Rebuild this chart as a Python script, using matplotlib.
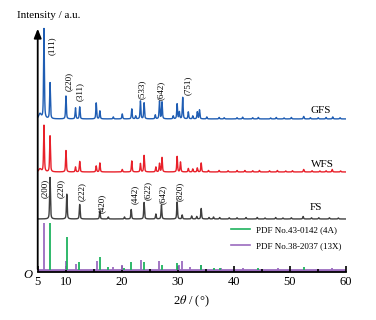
import numpy as np
import matplotlib.pyplot as plt
from matplotlib.lines import Line2D

plt.rcParams['font.family'] = ['Liberation Serif', 'DejaVu Serif']
plt.rcParams['mathtext.fontset'] = 'stix'

# peak positions (2theta, deg) and heights (a.u.)
gfs_pos = [5.4, 6.12, 7.2, 10.05, 11.75, 12.5, 15.45, 16.1, 18.5, 20.1, 21.8, 22.5, 23.35,
           24.0, 26.0, 26.75, 27.2, 29.2, 29.9, 30.3, 30.9, 31.9, 32.7, 33.5, 33.9,
           35.2, 37.4, 38.3, 40.6, 41.6, 43.4, 44.4, 46.6, 47.6, 49.0, 50.3, 52.5,
           53.7, 55.1, 56.5, 57.7, 59.0]
gfs_h = [5, 90, 36, 23, 11, 12, 16, 8, 2, 5, 10, 3, 18,
         16, 4, 17.5, 17, 3, 15, 7, 21.5, 7, 3, 7, 9,
         2, 1.5, 1.2, 1.2, 1.8, 1.2, 1.5, 1, 1.5, 1, 1.5, 2.5,
         1.2, 1.2, 1.5, 2, 1.2]

wfs_pos = [5.4, 6.12, 7.2, 10.05, 11.75, 12.5, 15.45, 16.1, 20.1, 21.8, 23.35, 24.0, 26.1,
           26.75, 27.2, 29.9, 30.5, 31.9, 32.7, 33.5, 34.2, 35.5, 37.4, 39.0, 40.6,
           42.0, 43.4, 44.6, 46.4, 47.8, 49.3, 50.5, 52.5, 54.0, 55.4, 56.5, 57.6, 59.1]
wfs_h = [3, 46.5, 36, 21.5, 5, 10.5, 6, 9, 2.5, 11, 8.5, 16.5, 5,
         8.5, 14.5, 15.5, 10, 3.5, 3, 4, 9, 1.5, 1.5, 1.2, 1.5,
         1.5, 1.2, 1.5, 1.2, 1.5, 1, 1.2, 2.5, 1.2, 1, 1.2, 2.5, 1]

fs_pos = [7.2, 10.2, 12.5, 16.1, 17.6, 20.5, 21.7, 24.0, 26.1, 27.1, 29.9, 30.8, 32.5,
          33.4, 34.2, 35.6, 36.4, 37.5, 39.2, 40.6, 42.2, 44.2, 45.6, 47.5, 48.8,
          50.3, 52.4, 53.9, 55.2, 57.1, 58.7]
fs_h = [41.5, 25, 14.5, 8, 2, 2, 9.5, 16.5, 5, 14, 17, 4, 3,
        2.5, 10.5, 1.5, 2, 1.5, 1.2, 1.2, 1.5, 1.5, 1, 1.5, 1,
        1.2, 2.5, 1.2, 1.2, 1.2, 1]

# standard patterns (stick heights)
pdf_4a_pos = [7.18, 10.17, 12.46, 16.11, 17.64, 20.41, 21.67, 23.99, 27.11, 29.94,
              34.18, 36.4, 37.5, 44.3, 52.5]
pdf_4a_h = [47, 33, 8, 13, 3, 2, 8, 7.5, 5, 7, 5, 2, 2, 1.5, 3]
pdf_13x_pos = [6.1, 10.0, 11.8, 15.5, 18.5, 20.1, 23.4, 26.7, 30.2, 30.8, 32.2, 34.1,
               37.8, 41.7, 47.9, 57.5]
pdf_13x_h = [47, 9, 6, 9, 3, 5, 10, 9, 5, 9, 3, 5, 2, 1.5, 1.5, 1.5]

names = ['GFS', 'WFS', 'FS']
offsets = [153, 100, 53]
colors = ['#1f5db3', '#e8202a', '#3f3f3f']
stick_base = 2

gfs_labels = ['(111)', '(220)', '(311)', '(533)', '(642)', '(751)']
gfs_label_x = [7.55, 10.6, 12.55, 23.6, 27.0, 31.85]
gfs_label_y = [226, 190, 180, 183, 182, 187]
fs_labels = ['(200)', '(220)', '(222)', '(420)', '(442)', '(622)', '(642)', '(820)']
fs_label_x = [6.3, 9.15, 12.9, 16.5, 22.4, 24.7, 27.4, 30.4]
fs_label_y = [84, 84, 80, 69, 78, 82, 78, 81]


def pattern(x, pos, h, fwhm=0.17, eta=0.55):
    y = np.zeros_like(x)
    for c, a in zip(pos, h):
        w = fwhm * (3.0 if c < 5.6 else 1.0)
        d = (x - c) / (w / 2)
        y += a * (eta / (1 + d ** 2) + (1 - eta) * np.exp(-np.log(2) * d ** 2))
    return y


fig = plt.figure(figsize=(3.76, 3.2), dpi=100)
ax = fig.add_axes([0.1003, 0.15, 0.819, 0.766])

x = np.linspace(5, 60, 3000)
data = [(gfs_pos, gfs_h), (wfs_pos, wfs_h), (fs_pos, fs_h)]
for (pos, h), off, col in zip(data, offsets, colors):
    ax.plot(x, pattern(x, pos, h) + off, color=col, lw=1.0)

ax.axhline(stick_base, color='#9b6bbf', lw=2, zorder=1)
ax.vlines(pdf_13x_pos, stick_base, np.array(pdf_13x_h) + stick_base, color='#9b6bbf', lw=1.3)
ax.vlines(pdf_4a_pos, stick_base, np.array(pdf_4a_h) + stick_base, color='#1fb35f', lw=1.3)

handles = [Line2D([], [], color='#1fb35f', lw=1.2), Line2D([], [], color='#9b6bbf', lw=1.2)]
ax.legend(handles, ['PDF No.43-0142 (4A)', 'PDF No.38-2037 (13X)'], loc='lower left',
          bbox_to_anchor=(0.6, 0.055), frameon=False, fontsize=6.5, handlelength=2.2,
          handletextpad=0.6, labelspacing=0.9)

for lab, lx, ly in zip(gfs_labels, gfs_label_x, gfs_label_y):
    ax.text(lx, ly, lab, rotation=90, ha='center', va='center', fontsize=6.5)
for lab, lx, ly in zip(fs_labels, fs_label_x, fs_label_y):
    ax.text(lx, ly, lab, rotation=90, ha='center', va='center', fontsize=6.5)

name_x = [55.5, 55.8, 54.7]
name_y = [161, 107, 64]
for n, nx, ny in zip(names, name_x, name_y):
    ax.text(nx, ny, n, ha='center', va='center', fontsize=8)

ax.set_xlim(5, 60)
ax.set_ylim(0, 245)
ax.set_xticks([5, 10, 20, 30, 40, 50, 60])
ax.set_xticks([15, 25, 35, 45, 55], minor=True)
ax.set_yticks([])
ax.tick_params(axis='x', which='major', direction='in', length=4, width=1.2, labelsize=9, pad=3)
ax.tick_params(axis='x', which='minor', direction='in', length=2, width=1.2)
for s in ['top', 'right']:
    ax.spines[s].set_visible(False)
ax.spines['bottom'].set_linewidth(1.3)
ax.spines['left'].set_visible(False)
ax.annotate('', xy=(5, 246), xytext=(5, 0), xycoords='data',
            arrowprops=dict(arrowstyle='-|>,head_width=0.22,head_length=0.55', color='black', lw=1.3),
            annotation_clip=False)
ax.set_xlabel(r'2$\mathit{\theta}$ / (°)', fontsize=9, labelpad=4)
fig.text(0.045, 0.95, 'Intensity / a.u.', fontsize=8, va='center')
fig.text(0.075, 0.142, 'O', fontsize=9, style='italic', ha='center', va='center')

fig.savefig('out.png', dpi=100)
